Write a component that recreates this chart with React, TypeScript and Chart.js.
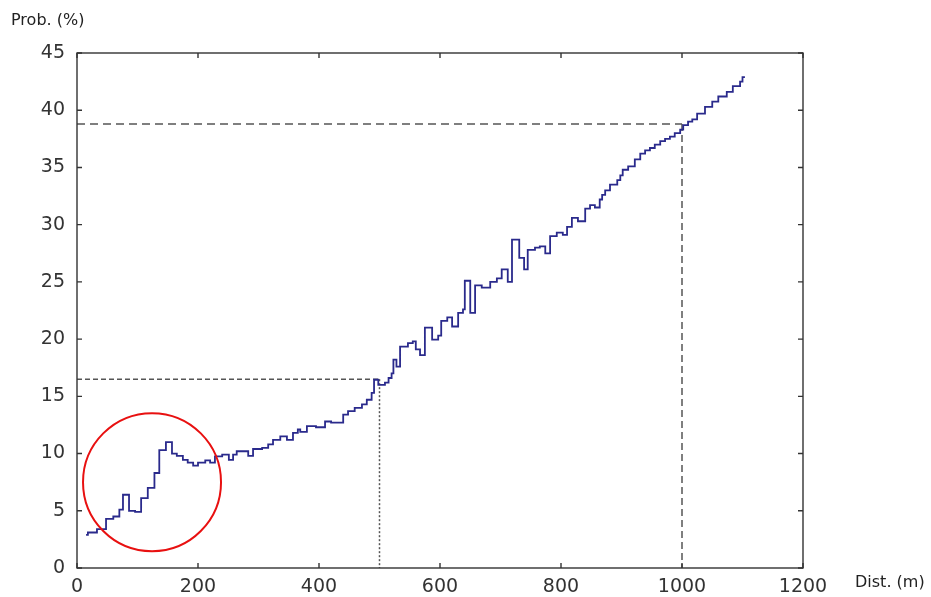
import React, { useEffect, useRef } from "react";
import { Chart, registerables } from "chart.js";

Chart.register(...registerables);

// Distance (m) where each step starts
const distM = [
  15, 18, 33, 48, 60, 70, 76, 86, 96, 106,
  117, 128, 136, 147, 157, 165, 175, 183, 192, 200,
  212, 220, 228, 240, 251, 258, 264, 283, 291, 306,
  316, 324, 336, 347, 357, 365, 369, 380, 395, 410,
  420, 440, 448, 459, 471, 479, 487, 491, 498, 509,
  515, 520, 523, 528, 534, 547, 555, 560, 567, 575,
  587, 597, 602, 612, 620, 630, 638, 641, 650, 658,
  669, 683, 694, 702, 712, 719, 731, 739, 745, 757,
  765, 774, 782, 793, 803, 810, 818, 828, 840, 848,
  856, 864, 868, 873, 881, 893, 898, 902, 911, 922,
  931, 939, 947, 955, 964, 972, 980, 988, 997, 1002,
  1010, 1017, 1025, 1038, 1050, 1060, 1074, 1084, 1096, 1100,
  1104,
];

// Probability (%) of each step
const probPct = [
  2.9, 3.1, 3.4, 4.3, 4.5, 5.1, 6.4, 5.0, 4.9, 6.1,
  7.0, 8.3, 10.3, 11.0, 10.0, 9.8, 9.45, 9.2, 8.95, 9.2,
  9.4, 9.2, 9.75, 9.9, 9.45, 9.9, 10.2, 9.8, 10.4, 10.5,
  10.8, 11.2, 11.5, 11.2, 11.8, 12.1, 11.9, 12.4, 12.3, 12.8,
  12.7, 13.4, 13.7, 14.0, 14.3, 14.7, 15.3, 16.45, 16.0, 16.2,
  16.6, 17.0, 18.2, 17.6, 19.35, 19.65, 19.8, 19.1, 18.6, 21.0,
  19.95, 20.3, 21.6, 21.9, 21.1, 22.3, 22.6, 25.1, 22.3, 24.7,
  24.5, 25.0, 25.3, 26.1, 25.0, 28.7, 27.1, 26.1, 27.8, 28.0,
  28.1, 27.5, 29.0, 29.3, 29.1, 29.8, 30.6, 30.3, 31.4, 31.7,
  31.5, 32.2, 32.6, 33.0, 33.5, 33.9, 34.3, 34.8, 35.1, 35.7,
  36.2, 36.5, 36.7, 37.0, 37.3, 37.5, 37.7, 38.0, 38.3, 38.7,
  39.0, 39.2, 39.7, 40.3, 40.75, 41.2, 41.6, 42.1, 42.5, 42.9,
  42.9,
];

// Reference markers (distance, probability)
const markerDist = [500, 1000];
const markerProb = [16.5, 38.8];

// Axis ticks
const xTicks = [0, 200, 400, 600, 800, 1000, 1200];
const yTicks = [0, 5, 10, 15, 20, 25, 30, 35, 40, 45];

// Highlight circle center (data coords)
const circleCenterDist = 124;
const circleCenterProb = 7.5;

const FONT = "'DejaVu Sans', sans-serif";

export default function App() {
  const canvasRef = useRef<HTMLCanvasElement | null>(null);

  useEffect(() => {
    document.body.style.margin = "0";
    const canvas = canvasRef.current;
    if (!canvas) return;

    const mainData = distM.map((d, i) => ({ x: d, y: probPct[i] }));

    const refStyles = [
      { h: [5, 3], v: [2, 2] },
      { h: [8, 5], v: [7, 4] },
    ];
    const refSets: any[] = [];
    markerDist.forEach((d, i) => {
      const p = markerProb[i];
      refSets.push({
        data: [
          { x: 0, y: p },
          { x: d, y: p },
        ],
        borderColor: "#555555",
        borderWidth: 1.5,
        borderDash: refStyles[i].h,
        pointRadius: 0,
        stepped: false,
      });
      refSets.push({
        data: [
          { x: d, y: p },
          { x: d, y: 0 },
        ],
        borderColor: "#555555",
        borderWidth: 1.5,
        borderDash: refStyles[i].v,
        pointRadius: 0,
        stepped: false,
      });
    });

    const framePlugin = {
      id: "framePlugin",
      afterDraw(chart: any) {
        const { ctx, chartArea, scales } = chart;
        const { left, right, top, bottom } = chartArea;
        ctx.save();
        ctx.strokeStyle = "#333333";
        ctx.lineWidth = 1.4;
        ctx.strokeRect(left, top, right - left, bottom - top);
        const tl = 5;
        ctx.beginPath();
        xTicks.forEach((v) => {
          const px = scales.x.getPixelForValue(v);
          ctx.moveTo(px, bottom);
          ctx.lineTo(px, bottom - tl);
          ctx.moveTo(px, top);
          ctx.lineTo(px, top + tl);
        });
        yTicks.forEach((v) => {
          const py = scales.y.getPixelForValue(v);
          ctx.moveTo(left, py);
          ctx.lineTo(left + tl, py);
          ctx.moveTo(right, py);
          ctx.lineTo(right - tl, py);
        });
        ctx.stroke();

        // red highlight circle
        const cx = scales.x.getPixelForValue(circleCenterDist);
        const cy = scales.y.getPixelForValue(circleCenterProb);
        ctx.beginPath();
        ctx.strokeStyle = "#e81010";
        ctx.lineWidth = 2;
        ctx.arc(cx, cy, 69, 0, Math.PI * 2);
        ctx.stroke();

        // axis titles
        ctx.fillStyle = "#222222";
        ctx.font = `16px ${FONT}`;
        ctx.textBaseline = "middle";
        ctx.textAlign = "left";
        ctx.fillText("Prob. (%)", 11, 21);
        ctx.fillText("Dist. (m)", 855, 583);
        ctx.restore();
      },
    };

    const chart = new Chart(canvas, {
      type: "line",
      data: {
        datasets: [
          {
            data: mainData,
            borderColor: "#2a2a8c",
            borderWidth: 1.8,
            pointRadius: 0,
            stepped: "before",
          },
          ...refSets,
        ],
      },
      options: {
        animation: false,
        responsive: false,
        maintainAspectRatio: false,
        layout: { padding: { top: 53, right: 128, left: 0, bottom: 0 } },
        plugins: {
          legend: { display: false },
          tooltip: { enabled: false },
        },
        scales: {
          x: {
            type: "linear",
            min: 0,
            max: 1200,
            afterFit: (s: any) => {
              s.height = 29;
            },
            afterBuildTicks: (s: any) => {
              s.ticks = xTicks.map((v) => ({ value: v }));
            },
            grid: { display: false, drawTicks: false },
            border: { display: false },
            ticks: {
              padding: 8,
              maxRotation: 0,
              autoSkip: false,
              color: "#333333",
              font: { family: FONT, size: 19 },
              callback: (v: any) => String(v),
            },
          },
          y: {
            type: "linear",
            min: 0,
            max: 45,
            afterFit: (s: any) => {
              s.width = 77;
            },
            afterBuildTicks: (s: any) => {
              s.ticks = yTicks.map((v) => ({ value: v }));
            },
            grid: { display: false, drawTicks: false },
            border: { display: false },
            ticks: {
              padding: 12,
              autoSkip: false,
              color: "#333333",
              font: { family: FONT, size: 19 },
              callback: (v: any) => String(v),
            },
          },
        },
      },
      plugins: [framePlugin],
    } as any);

    return () => chart.destroy();
  }, []);

  return (
    <div style={{ width: 931, height: 597, background: "#ffffff" }}>
      <canvas ref={canvasRef} width={931} height={597} style={{ display: "block" }} />
    </div>
  );
}
